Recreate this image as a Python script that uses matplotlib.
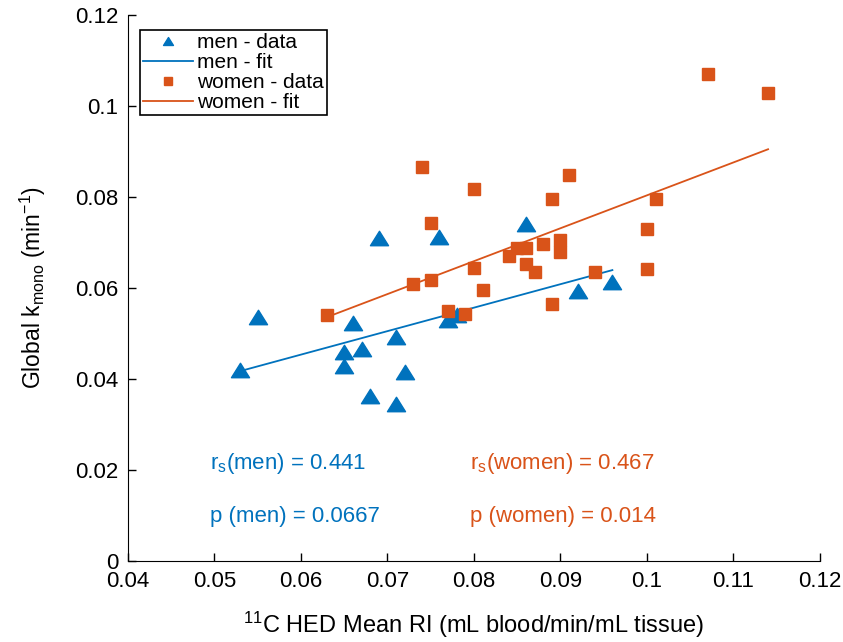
import matplotlib
matplotlib.use("Agg")
import matplotlib.pyplot as plt
import numpy as np
from matplotlib.path import Path

plt.rcParams['font.family'] = ['Liberation Sans', 'DejaVu Sans']
plt.rcParams['mathtext.fontset'] = 'custom'
plt.rcParams['mathtext.rm'] = 'Liberation Sans'
plt.rcParams['mathtext.it'] = 'Liberation Sans'
plt.rcParams['mathtext.default'] = 'regular'

BLUE = '#0072BD'
ORANGE = '#D95319'

# men - data
men_x = [0.053, 0.055, 0.065, 0.065, 0.066, 0.067, 0.068, 0.069, 0.071, 0.071,
         0.072, 0.076, 0.077, 0.078, 0.086, 0.092, 0.096]
men_y = [0.042, 0.0536, 0.0459, 0.0429, 0.0523, 0.0466, 0.0363, 0.0710, 0.0345, 0.0492,
         0.0415, 0.0712, 0.0530, 0.0540, 0.0740, 0.0593, 0.0613]

# women - data
women_x = [0.063, 0.073, 0.074, 0.075, 0.075, 0.077, 0.079, 0.080, 0.080, 0.081,
           0.084, 0.085, 0.086, 0.086, 0.087, 0.088, 0.089, 0.089, 0.090, 0.090,
           0.091, 0.094, 0.100, 0.100, 0.101, 0.107, 0.114]
women_y = [0.0540, 0.0609, 0.0866, 0.0743, 0.0618, 0.0549, 0.0543, 0.0818, 0.0644, 0.0596,
           0.0670, 0.0688, 0.0688, 0.0653, 0.0635, 0.0697, 0.0796, 0.0565, 0.0705, 0.0680,
           0.0848, 0.0635, 0.0730, 0.0642, 0.0796, 0.1070, 0.1029]

# linear fits (slope, intercept)
men_fit = (0.516, 0.0144)
women_fit = (0.7235, 0.00802)

stats_men = ['r$_s$(men) = 0.441', 'p (men) = 0.0667']
stats_women = ['r$_s$(women) = 0.467', 'p (women) = 0.014']

tri = Path([(0, 0.8), (-1, -0.8), (1, -0.8), (0, 0.8)],
           [Path.MOVETO, Path.LINETO, Path.LINETO, Path.CLOSEPOLY])

fig = plt.figure(figsize=(8.43, 6.42), dpi=100)
ax = fig.add_axes([0.1518, 0.1262, 0.8209, 0.8504])

ax.plot(men_x, men_y, linestyle='none', marker=tri, ms=13, color=BLUE,
        mec=BLUE, label='men - data')
xm = np.array([min(men_x), max(men_x)])
ax.plot(xm, men_fit[0] * xm + men_fit[1], color=BLUE, lw=1.3, label='men - fit')

ax.plot(women_x, women_y, linestyle='none', marker='s', ms=9.2, color=ORANGE,
        mec=ORANGE, label='women - data')
xw = np.array([min(women_x), max(women_x)])
ax.plot(xw, women_fit[0] * xw + women_fit[1], color=ORANGE, lw=1.3, label='women - fit')

ax.set_xlim(0.04, 0.12)
ax.set_ylim(0, 0.12)
ax.set_xticks(np.arange(0.04, 0.121, 0.01))
ax.set_xticklabels(['0.04', '0.05', '0.06', '0.07', '0.08', '0.09', '0.1', '0.11', '0.12'])
ax.set_yticks(np.arange(0, 0.121, 0.02))
ax.set_yticklabels(['0', '0.02', '0.04', '0.06', '0.08', '0.1', '0.12'])

ax.spines['top'].set_visible(False)
ax.spines['right'].set_visible(False)
ax.tick_params(direction='in', length=6, width=1, labelsize=16)
ax.tick_params(axis='x', pad=7)
ax.tick_params(axis='y', pad=7)

ax.set_xlabel('$^{11}$C HED Mean RI (mL blood/min/mL tissue)', fontsize=17, labelpad=13)
ax.set_ylabel('Global k$_{mono}$ (min$^{-1}$)', fontsize=16.5, labelpad=19)

ax.text(0.0495, 0.0215, stats_men[0], color=BLUE, fontsize=16, va='center')
ax.text(0.0495, 0.0097, stats_men[1], color=BLUE, fontsize=16, va='center')
ax.text(0.0795, 0.0215, stats_women[0], color=ORANGE, fontsize=16, va='center')
ax.text(0.0795, 0.0097, stats_women[1], color=ORANGE, fontsize=16, va='center')

leg = ax.legend(loc='upper left', bbox_to_anchor=(0.017, 0.9725), fontsize=15,
                fancybox=False, edgecolor='black', framealpha=1,
                labelspacing=0.05, handlelength=2.4, handletextpad=0.2,
                borderpad=0.15, borderaxespad=0, markerscale=0.55)
leg.get_frame().set_linewidth(1.2)

fig.savefig('out.png', dpi=100)
